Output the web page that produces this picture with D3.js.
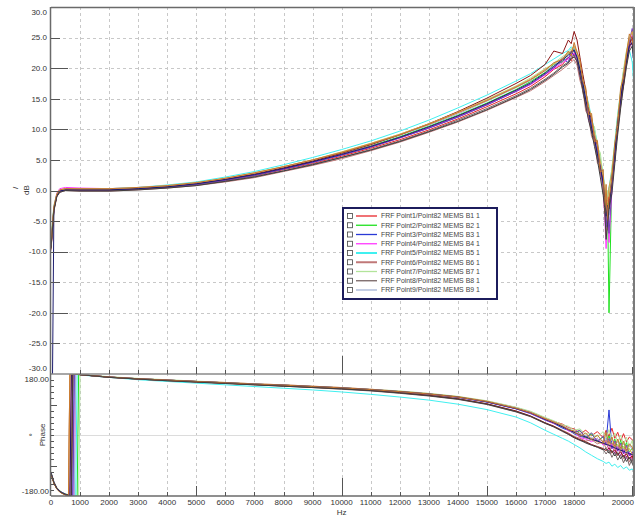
<!DOCTYPE html>
<html>
<head>
<meta charset="utf-8">
<script src="https://cdn.jsdelivr.net/npm/d3@7"></script>
<style>
  body { margin: 0; background: #fff; }
  svg { display: block; font-family: "Liberation Sans", Arial, sans-serif; }
</style>
</head>
<body>
<svg id="chart" width="643" height="518"></svg>
<script>
// frequency grids (Hz)
const FREQ_MAG = [0, 100, 200, 300, 500, 1000, 2000, 3000, 4000, 5000, 6000, 7000, 8000, 9000, 10000, 11000, 12000, 13000, 14000, 15000, 16000, 16500, 17000, 17300, 17600, 17800, 17900, 18000, 18100, 18200, 18300, 18400, 18500, 18600, 18700, 18800, 18900, 19000, 19050, 19100, 19150, 19200, 19300, 19400, 19500, 19600, 19700, 19800, 19900, 20000, 20050]
const FREQ_PHASE = [0, 100, 200, 300, 400, 500, 600, 650, 700, 750, 800, 850, 900, 950, 1000, 2000, 3000, 4000, 5000, 6000, 7000, 8000, 9000, 10000, 11000, 12000, 13000, 14000, 15000, 16000, 16500, 17000, 17300, 17600, 17800, 18000, 18200, 18400, 18600, 18800, 19000, 19100, 19200, 19300, 19400, 19500, 19600, 19700, 19800, 19900, 20000, 20050]

const SERIES_NAMES = ['FRF Point1/Point82  MEMS B1 1', 'FRF Point2/Point82  MEMS B2 1', 'FRF Point3/Point82  MEMS B3 1', 'FRF Point4/Point82  MEMS B4 1', 'FRF Point5/Point82  MEMS B5 1', 'FRF Point6/Point82  MEMS B6 1', 'FRF Point7/Point82  MEMS B7 1', 'FRF Point8/Point82  MEMS B8 1', 'FRF Point9/Point82  MEMS B9 1', 'FRF Point10/Point82  MEMS B10 1', 'FRF Point11/Point82  MEMS B11 1', 'FRF Point12/Point82  MEMS B12 1', 'FRF Point13/Point82  MEMS B13 1', 'FRF Point14/Point82  MEMS B14 1', 'FRF Point15/Point82  MEMS B15 1']
const SERIES_COLORS = ['#e8262a', '#1fe01f', '#2a3ad6', '#ff38ff', '#40f0f0', '#c07878', '#b2e49a', '#766464', '#a4b4d6', '#8e1616', '#7840b8', '#d8a048', '#1c1c6e', '#c87830', '#404040']
const LEGEND_COUNT = 9

// magnitude, dB
const MAG_B1 = [-9.6, -3.2, -0.9, -0.2, 0.1, 0.0, 0.0, 0.2, 0.5, 1.0, 1.6, 2.4, 3.4, 4.4, 5.6, 6.9, 8.3, 9.9, 11.7, 13.7, 15.8, 17.0, 18.6, 19.8, 20.6, 21.8, 21.2, 22.4, 21.0, 19.8, 16.2, 15.0, 11.8, 11.2, 7.6, 7.0, 2.8, 1.5, -3.2, -2.0, -6.5, 0.5, 0.8, 5.2, 10.2, 14.5, 17.6, 21.0, 23.5, 24.0, 22.5]
const MAG_B2 = [-8.8, -2.8, -0.7, 0.0, 0.2, 0.2, 0.2, 0.4, 0.7, 1.2, 1.9, 2.7, 3.7, 4.8, 6.0, 7.3, 8.8, 10.5, 12.3, 14.3, 16.5, 17.8, 19.3, 20.6, 21.0, 22.6, 21.9, 23.2, 21.4, 20.2, 17.4, 14.2, 13.0, 9.8, 9.2, 5.6, 5.0, -0.5, 0.2, -4.5, -2.0, -20.0, 2.5, 6.8, 11.6, 15.5, 19.0, 22.4, 24.6, 25.0, 23.0]
const MAG_B3 = [-9.2, -3.0, -0.8, -0.1, 0.1, 0.1, 0.1, 0.3, 0.6, 1.0, 1.7, 2.5, 3.5, 4.6, 5.8, 7.1, 8.6, 10.2, 12.0, 14.0, 16.2, 17.4, 19.0, 20.0, 21.6, 20.9, 22.8, 21.9, 22.3, 18.6, 17.8, 13.6, 13.0, 9.4, 9.8, 5.2, 4.5, 1.8, -2.6, -1.0, -5.5, -3.5, 3.0, 4.8, 12.0, 14.2, 19.4, 20.6, 25.0, 23.8, 21.0]
const MAG_B4 = [-9.0, -2.6, -0.4, 0.3, 0.5, 0.4, 0.3, 0.5, 0.8, 1.2, 1.9, 2.7, 3.6, 4.7, 5.9, 7.2, 8.6, 10.3, 12.1, 14.1, 16.2, 17.3, 18.9, 19.9, 20.9, 21.5, 22.0, 22.5, 21.2, 19.0, 16.8, 14.8, 11.5, 10.0, 8.2, 6.8, 3.2, 0.2, -4.0, -9.5, -3.0, -8.5, 0.0, 6.5, 10.5, 15.8, 18.0, 21.8, 23.0, 25.5, 22.0]
const MAG_B5 = [-8.6, -2.6, -0.6, 0.0, 0.2, 0.2, 0.3, 0.5, 0.9, 1.4, 2.2, 3.1, 4.2, 5.4, 6.7, 8.1, 9.7, 11.5, 13.5, 15.6, 17.9, 19.1, 20.6, 21.5, 22.4, 22.9, 23.5, 23.0, 22.6, 20.5, 18.4, 16.0, 14.2, 11.8, 10.0, 7.8, 5.2, 2.8, 0.5, -2.5, -1.0, 0.5, 3.5, 8.0, 12.5, 16.0, 19.5, 22.0, 23.0, 21.0, 17.5]
const MAG_B6 = [-9.8, -3.4, -1.0, -0.3, 0.0, -0.1, -0.1, 0.1, 0.4, 0.8, 1.4, 2.1, 3.1, 4.1, 5.2, 6.5, 7.9, 9.5, 11.2, 13.1, 15.2, 16.3, 17.8, 18.8, 19.8, 20.6, 21.0, 21.4, 20.5, 18.0, 16.4, 13.0, 12.2, 8.8, 8.0, 4.5, 3.8, 0.0, -2.0, -7.5, -4.0, -2.5, 1.0, 5.5, 9.8, 13.8, 17.5, 20.5, 23.2, 24.6, 23.0]
const MAG_B7 = [-7.6, -2.4, -0.5, 0.1, 0.3, 0.3, 0.3, 0.5, 0.8, 1.3, 2.0, 2.9, 3.9, 5.0, 6.3, 7.7, 9.2, 10.9, 12.8, 14.9, 17.1, 18.4, 19.9, 20.8, 21.9, 22.5, 23.2, 23.6, 22.8, 20.6, 18.6, 15.8, 14.0, 11.0, 10.4, 7.0, 6.2, 2.0, 1.2, -3.0, 0.0, -1.0, 3.8, 7.5, 12.2, 16.4, 19.8, 22.8, 25.2, 25.8, 24.0]
const MAG_B8 = [-9.4, -3.1, -0.9, -0.2, 0.1, 0.0, 0.0, 0.2, 0.5, 0.9, 1.5, 2.3, 3.2, 4.3, 5.4, 6.7, 8.1, 9.7, 11.5, 13.4, 15.5, 16.7, 18.2, 19.2, 20.4, 21.0, 21.8, 22.2, 21.0, 19.5, 16.0, 14.2, 12.6, 9.6, 8.4, 5.8, 3.4, 1.2, -1.0, -5.0, -6.0, -2.0, 1.8, 5.8, 10.8, 14.0, 18.2, 20.8, 24.2, 24.8, 22.6]
const MAG_B9 = [-9.1, -2.9, -0.7, 0.0, 0.2, 0.2, 0.2, 0.4, 0.7, 1.2, 1.9, 2.8, 3.8, 4.9, 6.1, 7.5, 9.0, 10.7, 12.5, 14.6, 16.8, 18.0, 19.6, 20.4, 21.7, 22.2, 22.9, 23.3, 22.0, 20.0, 17.6, 15.4, 13.4, 10.8, 9.0, 6.6, 4.4, 2.0, -0.5, -3.5, -2.5, -4.0, 2.2, 6.2, 11.4, 15.2, 18.8, 21.6, 24.0, 24.4, 21.8]
const MAG_B10 = [-9.3, -3.0, -0.8, -0.1, 0.1, 0.1, 0.1, 0.3, 0.6, 1.1, 1.8, 2.7, 3.7, 4.8, 6.1, 7.5, 9.1, 10.9, 12.9, 15.1, 17.5, 18.8, 20.6, 22.8, 22.4, 24.6, 24.0, 26.0, 24.6, 21.8, 19.0, 16.4, 13.2, 11.6, 8.8, 7.4, 3.6, 1.8, -2.2, -1.5, -4.5, -2.0, 1.2, 6.0, 10.0, 14.8, 17.2, 21.2, 23.8, 25.2, 22.8]
const MAG_B11 = [-9.0, -2.9, -0.8, -0.1, 0.1, 0.1, 0.1, 0.3, 0.6, 1.0, 1.7, 2.5, 3.5, 4.6, 5.8, 7.1, 8.6, 10.2, 12.0, 14.0, 16.2, 17.4, 19.0, 20.1, 21.2, 21.7, 22.4, 22.8, 21.6, 19.4, 17.2, 14.6, 12.8, 10.4, 8.6, 6.2, 4.0, 0.8, -1.8, -6.0, -3.2, -7.0, 0.5, 5.0, 11.0, 14.6, 18.6, 21.4, 24.4, 26.5, 23.4]
const MAG_B12 = [-8.9, -2.8, -0.6, 0.1, 0.3, 0.2, 0.2, 0.4, 0.7, 1.2, 2.0, 2.8, 3.9, 5.0, 6.3, 7.7, 9.2, 10.9, 12.8, 14.8, 17.0, 18.2, 19.8, 20.7, 21.6, 22.4, 22.8, 23.6, 22.4, 20.8, 18.0, 16.2, 13.6, 12.0, 9.2, 7.6, 4.8, 2.4, 0.0, -3.8, -1.5, 0.5, 3.0, 7.2, 11.8, 16.0, 19.2, 22.6, 24.8, 26.0, 24.6]
const MAG_B13 = [-60, -3.0, -0.8, -0.1, 0.1, 0.1, 0.1, 0.3, 0.6, 1.1, 1.8, 2.6, 3.6, 4.7, 5.9, 7.2, 8.7, 10.4, 12.2, 14.2, 16.4, 17.6, 19.2, 20.3, 21.4, 22.1, 22.6, 23.0, 21.8, 19.8, 17.6, 14.8, 13.0, 10.2, 8.4, 6.0, 3.8, 1.2, -1.2, -4.2, -2.4, -3.0, 1.8, 6.4, 11.2, 15.0, 18.4, 21.2, 23.6, 24.2, 22.0]
const MAG_B14 = [-9.0, -2.7, -0.6, 0.1, 0.3, 0.3, 0.3, 0.5, 0.8, 1.3, 2.0, 2.9, 3.9, 5.0, 6.2, 7.6, 9.1, 10.8, 12.7, 14.7, 16.9, 18.1, 19.6, 20.9, 21.4, 22.8, 22.0, 24.2, 22.6, 21.4, 17.8, 16.8, 12.4, 12.6, 8.0, 8.2, 3.0, 3.4, -3.6, 1.0, -5.0, -1.5, 2.0, 7.8, 10.6, 16.8, 18.4, 22.2, 25.6, 24.6, 23.2]
const MAG_B15 = [-9.5, -3.3, -1.0, -0.3, 0.0, -0.1, -0.1, 0.1, 0.4, 0.8, 1.5, 2.2, 3.2, 4.2, 5.4, 6.6, 8.0, 9.6, 11.3, 13.2, 15.3, 16.5, 18.0, 19.0, 20.2, 20.8, 21.6, 21.8, 21.2, 18.8, 16.6, 13.8, 11.4, 9.6, 7.2, 5.0, 2.2, -0.8, -2.8, -8.0, -5.5, -3.0, -0.5, 4.4, 9.2, 13.4, 17.0, 20.2, 22.8, 23.6, 21.4]

// phase, degrees
const PHASE_B1 = [-113, -141, -158, -167, -172, -176, -178, -179, 179.5, 179.5, 179.4, 179.3, 179.2, 179, 178, 171, 166, 162, 158, 155, 151, 148, 144, 140, 135, 129, 122, 113, 100, 81, 68, 50, 40, 32, 22, 18, 4, 14, -2, 10, -8, 14, -4, 20, -10, 8, -18, 4, -20, -6, -14, -30]
const PHASE_B2 = [-110, -139, -156, -165, -170, -174, -177, -178, -179, -179.3, -179.5, -179.6, -179.8, 179.4, 178, 171, 166, 162, 158, 154, 150, 147, 143, 139, 134, 128, 121, 112, 98, 79, 66, 47, 37, 24, 16, 8, 12, -6, 2, -16, -6, -24, -2, -32, -12, -40, -16, -46, -22, -52, -38, -50]
const PHASE_B3 = [-112, -140, -157, -166, -171, -175, -177.5, -178.5, -179, -179.5, 179.5, 179.4, 179.2, 179, 178, 171, 165, 161, 157, 153, 149, 146, 142, 138, 133, 127, 120, 111, 97, 77, 63, 44, 34, 20, 14, 4, -4, -8, -14, -18, -26, -20, 74, -40, -30, -46, -36, -52, -42, -58, -50, -62]
const PHASE_B4 = [-109, -138, -156, -165, -171, -175, -177.5, -178.5, -179, -179.3, -179.6, 179.5, 179.3, 179.1, 178, 171, 166, 162, 158, 154, 150, 147, 143, 139, 134, 128, 121, 112, 98, 78, 64, 45, 34, 26, 12, 10, -8, -12, -20, -10, -30, -16, -44, -26, -56, -34, -62, -42, -70, -50, -76, -66]
const PHASE_B5 = [-111, -140, -157, -166, -171, -175, -177.5, -178.5, -179, -179.3, -179.5, -179.7, 179.4, 179.2, 177, 170, 163, 158, 153, 148, 143, 138, 133, 127, 120, 112, 103, 91, 75, 53, 36, 14, 2, -10, -18, -28, -38, -50, -60, -70, -78, -84, -80, -92, -86, -96, -90, -100, -94, -104, -100, -106]
const PHASE_B6 = [-115, -142, -159, -168, -173, -176.5, -179, 179.5, 179.5, 179.4, 179.3, 179.2, 179.1, 179, 178, 170, 165, 161, 157, 153, 149, 145, 141, 137, 131, 125, 117, 107, 92, 70, 56, 36, 26, 14, 6, -4, -10, -18, -14, -26, -20, -40, -28, -54, -36, -62, -44, -70, -50, -80, -58, -84]
const PHASE_B7 = [-108, -137, -155, -164, -170, -174, -177, -178, -178.8, -179.2, -179.4, -179.6, -179.7, -179.9, 179, 172, 167, 163, 159, 155, 151, 148, 144, 140, 135, 130, 123, 114, 101, 82, 70, 52, 42, 30, 26, 14, 18, 2, 6, -6, 10, -10, 16, -14, 6, -22, 0, -28, -6, -36, -16, -44]
const PHASE_B8 = [-114, -141, -158, -167, -172, -176, -178, -179, -179.6, 179.5, 179.4, 179.3, 179.2, 179, 178, 170, 165, 160, 156, 152, 148, 144, 140, 135, 130, 123, 115, 105, 90, 68, 54, 34, 24, 10, 2, -8, -14, -24, -30, -36, -42, -56, -44, -66, -50, -74, -58, -82, -62, -90, -70, -96]
const PHASE_B9 = [-111, -140, -157, -166, -171, -175, -177.5, -178.5, -179, -179.3, -179.6, 179.5, 179.3, 179.1, 178, 171, 166, 162, 158, 154, 150, 147, 143, 139, 134, 128, 121, 112, 99, 80, 67, 48, 38, 26, 20, 10, 4, -2, -8, -12, -18, -10, -24, -14, -28, -20, -34, -26, -38, -30, -42, -46]
const PHASE_B10 = [-113, -141, -158, -167, -172, -176, -178, -179, -179.5, 179.5, 179.4, 179.3, 179.2, 179, 178, 171, 165, 161, 157, 153, 149, 145, 141, 137, 132, 125, 117, 107, 92, 71, 56, 36, 26, 12, 4, -6, -14, -20, -28, -34, -40, -46, -38, -52, -44, -58, -50, -64, -56, -70, -62, -74]
const PHASE_B11 = [-112, -140, -157, -166, -171, -175, -177.5, -178.5, -179, -179.5, 179.5, 179.4, 179.2, 179, 178, 171, 166, 162, 158, 154, 150, 147, 143, 139, 134, 128, 121, 112, 98, 78, 66, 46, 36, 24, 16, 8, 14, -8, 6, -20, -4, -30, -10, -40, -18, -48, -24, -56, -30, -62, -50, -58]
const PHASE_B12 = [-116, -143, -159, -168, -173, -176.5, -179, 179.5, 179.5, 179.4, 179.3, 179.2, 179.1, 179, 178, 171, 166, 162, 158, 154, 150, 147, 143, 139, 134, 128, 121, 113, 99, 79, 66, 47, 36, 24, 18, 6, 2, -8, -12, -20, -26, -16, -32, -22, -38, -28, -44, -34, -50, -40, -56, -60]
const PHASE_B13 = [-112, -140, -157, -166, -171, -175, -178, -179, 179.5, 179.4, 179.3, 179.2, 179.1, 179, 178, 171, 166, 162, 158, 154, 150, 147, 143, 139, 134, 128, 121, 112, 98, 78, 65, 46, 36, 24, 16, 8, 0, -6, -12, -18, -24, -28, -30, -34, -38, -42, -45, -48, -52, -55, -58, -60]
const PHASE_B14 = [-115, -142, -159, -168, -173, -176.5, -179, 179.5, 179.5, 179.4, 179.3, 179.2, 179.1, 179, 178, 171, 166, 162, 158, 154, 150, 147, 143, 139, 134, 128, 121, 112, 99, 79, 66, 48, 38, 28, 16, 12, -4, 6, -14, 0, -22, 8, -26, -6, -34, -12, -40, -18, -46, -26, -36, -52]
const PHASE_B15 = [-113, -141, -158, -167, -172, -176, -178, -179, -179.5, 179.5, 179.4, 179.3, 179.2, 179, 178, 170, 165, 160, 156, 152, 148, 144, 140, 136, 131, 124, 116, 106, 91, 69, 55, 35, 24, 12, 2, -8, -16, -22, -30, -36, -44, -40, -54, -46, -62, -52, -70, -60, -78, -66, -84, -90]

const MAG_SERIES = [MAG_B1, MAG_B2, MAG_B3, MAG_B4, MAG_B5, MAG_B6, MAG_B7, MAG_B8, MAG_B9, MAG_B10, MAG_B11, MAG_B12, MAG_B13, MAG_B14, MAG_B15]
const PHASE_SERIES = [PHASE_B1, PHASE_B2, PHASE_B3, PHASE_B4, PHASE_B5, PHASE_B6, PHASE_B7, PHASE_B8, PHASE_B9, PHASE_B10, PHASE_B11, PHASE_B12, PHASE_B13, PHASE_B14, PHASE_B15]

// axis ticks / labels
const DB_TICKS = [30, 25, 20, 15, 10, 5, 0, -5, -10, -15, -20, -25, -30]
const PHASE_LABELS = [180, -180]
const HZ_LABELS = [0, 1000, 2000, 3000, 4000, 5000, 6000, 7000, 8000, 9000, 10000, 11000, 12000, 13000, 14000, 15000, 16000, 17000, 18000, 20000]

const dim = { left: 51, right: 634, top: 7, split: 374, bottom: 496 }

drawChart()

function drawChart () {
  const svg = d3.select('#chart')
  const scales = setScales()
  createClips(svg)
  drawGrid(svg, scales)
  drawLines(svg, scales)
  drawFrame(svg)
  drawTicks(svg, scales)
  drawLabels(svg, scales)
  drawLegend(svg)
}

function setScales () {
  return {
    x: d3.scaleLinear().domain([0, 20060]).range([dim.left, dim.right]),
    yMag: d3.scaleLinear().domain([-30, 30]).range([dim.split, dim.top]),
    yPh: d3.scaleLinear().domain([-180, 180]).range([dim.bottom, dim.split])
  }
}

function createClips (svg) {
  const defs = svg.append('defs')
  defs.append('clipPath').attr('id', 'clipMag').append('rect')
    .attr('x', dim.left).attr('y', dim.top)
    .attr('width', dim.right - dim.left).attr('height', dim.split - dim.top)
  defs.append('clipPath').attr('id', 'clipPh').append('rect')
    .attr('x', dim.left).attr('y', dim.split)
    .attr('width', dim.right - dim.left).attr('height', dim.bottom - dim.split)
}

function drawGrid (svg, { x, yMag, yPh }) {
  const g = svg.append('g').attr('class', 'grid')
  const vx = d3.range(1000, 20001, 1000)
  g.selectAll('line.v').data(vx).join('line')
    .attr('x1', (d) => Math.round(x(d)) + 0.5).attr('x2', (d) => Math.round(x(d)) + 0.5)
    .attr('y1', dim.top).attr('y2', dim.bottom)
    .attr('stroke', '#c8c8c8').attr('stroke-dasharray', '3,3')
  const hy = DB_TICKS.filter((d) => d !== 0 && Math.abs(d) !== 30)
  g.selectAll('line.h').data(hy).join('line')
    .attr('x1', dim.left).attr('x2', dim.right)
    .attr('y1', (d) => Math.round(yMag(d)) + 0.5).attr('y2', (d) => Math.round(yMag(d)) + 0.5)
    .attr('stroke', '#c8c8c8').attr('stroke-dasharray', '3,3')
  // solid zero lines
  g.append('line').attr('x1', dim.left).attr('x2', dim.right)
    .attr('y1', Math.round(yMag(0)) + 0.5).attr('y2', Math.round(yMag(0)) + 0.5)
    .attr('stroke', '#dcdcdc')
  g.append('line').attr('x1', dim.left).attr('x2', dim.right)
    .attr('y1', Math.round(yPh(0)) + 0.5).attr('y2', Math.round(yPh(0)) + 0.5)
    .attr('stroke', '#dcdcdc')
}

function drawLines (svg, { x, yMag, yPh }) {
  const magLine = d3.line().x((d) => x(d[0])).y((d) => yMag(d[1]))
  const phLine = d3.line().x((d) => x(d[0])).y((d) => yPh(d[1]))
  const gm = svg.append('g').attr('clip-path', 'url(#clipMag)')
  gm.selectAll('path').data(MAG_SERIES).join('path')
    .attr('d', (s) => magLine(d3.zip(FREQ_MAG, s)))
    .attr('fill', 'none')
    .attr('stroke', (s, i) => SERIES_COLORS[i])
    .attr('stroke-width', 1)
  const gp = svg.append('g').attr('clip-path', 'url(#clipPh)')
  gp.selectAll('path').data(PHASE_SERIES).join('path')
    .attr('d', (s) => phLine(d3.zip(FREQ_PHASE, s)))
    .attr('fill', 'none')
    .attr('stroke', (s, i) => SERIES_COLORS[i])
    .attr('stroke-width', 1)
}

function drawFrame (svg) {
  const g = svg.append('g')
  g.append('line').attr('x1', dim.left).attr('x2', dim.right).attr('y1', dim.top + 0.5).attr('y2', dim.top + 0.5)
    .attr('stroke', '#6a6a6a').attr('stroke-width', 1.5)
  g.append('line').attr('x1', dim.right).attr('x2', dim.right).attr('y1', dim.top).attr('y2', dim.bottom)
    .attr('stroke', '#7a7a7a').attr('stroke-width', 2)
  g.append('line').attr('x1', dim.left).attr('x2', dim.right).attr('y1', dim.split).attr('y2', dim.split)
    .attr('stroke', '#8a8a8a').attr('stroke-width', 1.5)
  g.append('line').attr('x1', dim.left).attr('x2', dim.right).attr('y1', dim.bottom).attr('y2', dim.bottom)
    .attr('stroke', '#6a6a6a').attr('stroke-width', 1.5)
  g.append('line').attr('x1', dim.left - 0.5).attr('x2', dim.left - 0.5).attr('y1', dim.top).attr('y2', dim.bottom)
    .attr('stroke', '#6a6a6a').attr('stroke-width', 1.5)
}

function drawTicks (svg, { x, yMag, yPh }) {
  const g = svg.append('g').attr('stroke', '#555').attr('stroke-width', 1)
  // left, magnitude panel (inward)
  const dbTicks = DB_TICKS.filter((d) => Math.abs(d) !== 30)
  g.selectAll('line.dbt').data(dbTicks).join('line')
    .attr('x1', dim.left).attr('x2', (d) => dim.left + ((d % 10 === 0 && d !== 0) ? 17 : 9))
    .attr('y1', (d) => Math.round(yMag(d)) + 0.5).attr('y2', (d) => Math.round(yMag(d)) + 0.5)
  // left, phase panel
  const phTicks = d3.range(-162, 180, 18)
  g.selectAll('line.pht').data(phTicks).join('line')
    .attr('x1', dim.left).attr('x2', (d) => dim.left + (Math.abs(d) === 90 ? 6 : 3))
    .attr('y1', (d) => Math.round(yPh(d)) + 0.5).attr('y2', (d) => Math.round(yPh(d)) + 0.5)
  // x ticks at the bottom of each panel, pointing up
  const hz = d3.range(1000, 20001, 1000)
  const len = (d, mid) => d === 10000 ? 18 : (d % 5000 === 0 ? mid : 4)
  g.selectAll('line.xt1').data(hz).join('line')
    .attr('x1', (d) => Math.round(x(d)) + 0.5).attr('x2', (d) => Math.round(x(d)) + 0.5)
    .attr('y1', dim.split).attr('y2', (d) => dim.split - len(d, 7))
  g.selectAll('line.xt2').data(hz).join('line')
    .attr('x1', (d) => Math.round(x(d)) + 0.5).attr('x2', (d) => Math.round(x(d)) + 0.5)
    .attr('y1', dim.bottom).attr('y2', (d) => dim.bottom - len(d, 10))
}

function drawLabels (svg, { x, yMag, yPh }) {
  const g = svg.append('g').attr('font-size', 8).attr('fill', '#333')
  g.selectAll('text.db').data(DB_TICKS).join('text')
    .attr('x', 47)
    .attr('y', (d) => d === 30 ? 12 : (d === -30 ? 368 : yMag(d)))
    .attr('dy', '0.35em').attr('text-anchor', 'end')
    .text((d) => d3.format('.1f')(d).replace('−', '-'))
  g.selectAll('text.ph').data(PHASE_LABELS).join('text')
    .attr('x', 49)
    .attr('y', (d) => d > 0 ? 379 : 491)
    .attr('dy', '0.35em').attr('text-anchor', 'end')
    .text((d) => d3.format('.2f')(d).replace('−', '-'))
  g.selectAll('text.hz').data(HZ_LABELS).join('text')
    .attr('x', (d) => d === 20000 ? 634 : x(d))
    .attr('y', 505)
    .attr('text-anchor', (d) => d === 20000 ? 'end' : 'middle')
    .text((d) => d)
  g.append('text').attr('x', x(10000)).attr('y', 515).attr('text-anchor', 'middle').text('Hz')
  g.append('text').attr('transform', 'translate(29,190) rotate(-90)').attr('text-anchor', 'middle').text('dB')
  g.append('text').attr('transform', 'translate(18,188) rotate(-90)').attr('text-anchor', 'middle').text('/')
  g.append('text').attr('transform', 'translate(45,435) rotate(-90)').attr('text-anchor', 'middle').text('Phase')
  g.append('text').attr('transform', 'translate(35,435) rotate(-90)').attr('text-anchor', 'middle').text('°')
}

function drawLegend (svg) {
  const box = { x: 343, y: 208, w: 154, h: 91 }
  const g = svg.append('g')
  g.append('rect').attr('x', box.x).attr('y', box.y).attr('width', box.w).attr('height', box.h)
    .attr('fill', '#fff').attr('stroke', '#1c1c5c').attr('stroke-width', 2)
  const rows = g.selectAll('g.row').data(SERIES_NAMES.slice(0, LEGEND_COUNT)).join('g')
    .attr('transform', (d, i) => `translate(0, ${216 + i * 9.25})`)
  rows.append('rect').attr('x', 347.5).attr('y', -2.5).attr('width', 5).attr('height', 5)
    .attr('fill', '#fff').attr('stroke', '#444').attr('stroke-width', 0.8)
  rows.append('line').attr('x1', 356).attr('x2', 377).attr('y1', 0).attr('y2', 0)
    .attr('stroke', (d, i) => SERIES_COLORS[i])
    .attr('stroke-width', (d, i) => (i === 4 || i === 5) ? 2 : 1.3)
  rows.append('text').attr('x', 381).attr('y', 0).attr('dy', '0.35em')
    .attr('font-size', 6.9).attr('fill', '#444').text((d) => d)
}
</script>
</body>
</html>
